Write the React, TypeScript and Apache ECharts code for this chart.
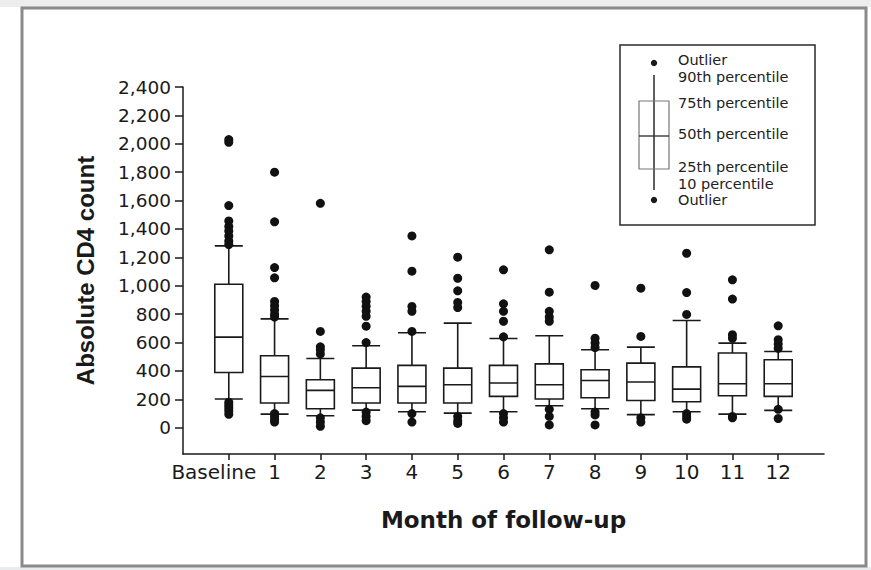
import React, { useEffect, useRef } from 'react';
import * as echarts from 'echarts';

// ---- data ----
const categories = ['Baseline', '1', '2', '3', '4', '5', '6', '7', '8', '9', '10', '11', '12'];
const whiskerLow = [202, 96, 84, 124, 113, 103, 113, 155, 134, 92, 113, 96, 122];
const q1 = [389, 174, 134, 174, 174, 174, 221, 202, 211, 192, 183, 225, 221];
const median = [638, 361, 263, 282, 291, 303, 315, 303, 333, 322, 272, 310, 310];
const q3 = [1011, 507, 338, 420, 439, 420, 439, 450, 408, 455, 429, 526, 479];
const whiskerHigh = [1281, 767, 488, 577, 669, 737, 629, 648, 549, 568, 755, 596, 537];
const outliers: number[][] = [
  [2030, 2010, 1565, 1457, 1417, 1385, 1350, 1315, 1290, 180, 160, 140, 120, 95],
  [1800, 1450, 1128, 1056, 890, 860, 830, 800, 780, 100, 80, 60, 40],
  [1581, 678, 570, 550, 520, 70, 40, 10],
  [920, 890, 855, 820, 785, 715, 600, 110, 80, 50],
  [1351, 1103, 854, 820, 678, 100, 40],
  [1201, 1053, 964, 882, 847, 80, 50, 30],
  [1112, 873, 820, 750, 640, 100, 70, 40],
  [1253, 955, 820, 780, 750, 130, 80, 20],
  [1002, 631, 596, 565, 110, 90, 20],
  [983, 643, 70, 40],
  [1229, 952, 798, 100, 80, 60],
  [1042, 906, 655, 630, 80, 70],
  [718, 620, 590, 560, 130, 65],
];
const yTickValues = [0, 200, 400, 600, 800, 1000, 1200, 1400, 1600, 1800, 2000, 2200, 2400];
const xAxisTitle = 'Month of follow-up';
const yAxisTitle = 'Absolute CD4 count';
const legendLabels = [
  'Outlier',
  '90th percentile',
  '75th percentile',
  '50th percentile',
  '25th percentile',
  '10 percentile',
  'Outlier',
];

const INK = '#1a1a1a';
const TICK_FONT = "'DejaVu Sans', 'Noto Sans', sans-serif";

export default function App() {
  const ref = useRef<HTMLDivElement>(null);

  useEffect(() => {
    const chart = echarts.init(ref.current as HTMLDivElement, null, { renderer: 'svg' });
    const catIdx = categories.map((_, i) => i);
    const boxData = categories.map((_, i) => [i, whiskerLow[i], q1[i], median[i], q3[i], whiskerHigh[i]]);
    const outlierData: number[][] = [];
    outliers.forEach((arr, i) => arr.forEach((v) => outlierData.push([i, v])));

    const legendTextY = [59.5, 77, 102.7, 134, 167, 184, 200];

    chart.setOption({
      animation: false,
      backgroundColor: '#ffffff',
      grid: { left: 183, right: 47, top: 87, bottom: 116, outerBoundsMode: 'none' },
      xAxis: {
        type: 'value',
        min: -1,
        max: 13,
        interval: 1,
        splitLine: { show: false },
        axisLine: { show: true, onZero: false, lineStyle: { color: INK, width: 1.5 } },
        axisTick: { show: true, customValues: catIdx, length: 6, lineStyle: { color: INK, width: 1.5 } },
        axisLabel: {
          customValues: catIdx,
          margin: 8,
          fontFamily: TICK_FONT,
          fontSize: 20,
          color: INK,
          formatter: (v: number) => {
            const i = Math.round(v);
            if (i === 0) return '{base|' + categories[0] + '}';
            return categories[i] ?? '';
          },
          rich: {
            base: { fontFamily: TICK_FONT, fontSize: 20, color: INK, padding: [0, 30, 0, 0] },
          },
        },
        name: xAxisTitle,
        nameLocation: 'middle',
        nameGap: 54,
        nameMoveOverlap: false,
        nameTextStyle: { fontFamily: TICK_FONT, fontWeight: 'bold', fontSize: 23, color: INK },
      },
      yAxis: {
        type: 'value',
        min: -185,
        max: 2400,
        splitLine: { show: false },
        axisLine: { show: true, onZero: false, lineStyle: { color: INK, width: 1.5 } },
        axisTick: { show: true, customValues: yTickValues, length: 8, lineStyle: { color: INK, width: 1.5 } },
        axisLabel: {
          customValues: yTickValues,
          margin: 12,
          fontFamily: TICK_FONT,
          fontSize: 18.5,
          color: INK,
          formatter: (v: number) => Math.round(v).toLocaleString('en-US'),
        },
        name: yAxisTitle,
        nameLocation: 'middle',
        nameGap: 86,
        nameMoveOverlap: false,
        nameTextStyle: { fontFamily: "'Liberation Sans', Arial, sans-serif", fontWeight: 'bold', fontSize: 24, color: INK },
      },
      series: [
        {
          type: 'boxplot',
          data: boxData,
          boxWidth: [28, 28],
          z: 2,
          itemStyle: { color: '#ffffff', borderColor: INK, borderWidth: 1.6 },
        },
        {
          type: 'scatter',
          data: outlierData,
          symbol: 'circle',
          symbolSize: 9,
          z: 3,
          itemStyle: { color: '#111111', opacity: 1 },
        },
      ],
      graphic: [
        { type: 'rect', shape: { x: 0, y: 0, width: 871, height: 7 }, style: { fill: '#ededed' }, silent: true },
        { type: 'rect', shape: { x: 0, y: 567, width: 871, height: 3 }, style: { fill: '#e8ecef' }, silent: true },
        {
          type: 'rect',
          shape: { x: 22, y: 8, width: 844, height: 558 },
          style: { fill: 'none', stroke: '#8a8a8a', lineWidth: 3 },
          silent: true,
        },
        {
          type: 'rect',
          shape: { x: 620, y: 45, width: 195, height: 180 },
          style: { fill: '#ffffff', stroke: '#2a2a2a', lineWidth: 1.5 },
          silent: true,
          z: 10,
        },
        {
          type: 'line',
          shape: { x1: 654, y1: 75, x2: 654, y2: 190 },
          style: { stroke: '#2a2a2a', lineWidth: 1.5 },
          z: 11,
        },
        {
          type: 'rect',
          shape: { x: 639, y: 101, width: 30, height: 68 },
          style: { fill: 'none', stroke: '#777777', lineWidth: 1.2 },
          z: 11,
        },
        {
          type: 'line',
          shape: { x1: 639, y1: 136, x2: 669, y2: 136 },
          style: { stroke: '#2a2a2a', lineWidth: 1.3 },
          z: 11,
        },
        { type: 'circle', shape: { cx: 654, cy: 63, r: 3.2 }, style: { fill: INK }, z: 11 },
        { type: 'circle', shape: { cx: 654, cy: 200, r: 3.2 }, style: { fill: INK }, z: 11 },
        ...legendLabels.map((t, i) => ({
          type: 'text',
          x: 678,
          y: legendTextY[i],
          z: 11,
          style: {
            text: t,
            fontFamily: TICK_FONT,
            fontSize: 14.5,
            fill: '#222222',
            textVerticalAlign: 'middle',
            verticalAlign: 'middle',
          },
        })),
      ],
    });
    return () => chart.dispose();
  }, []);

  return (
    <div
      ref={ref}
      style={{ position: 'absolute', left: 0, top: 0, width: 871, height: 570, background: '#ffffff' }}
    />
  );
}
